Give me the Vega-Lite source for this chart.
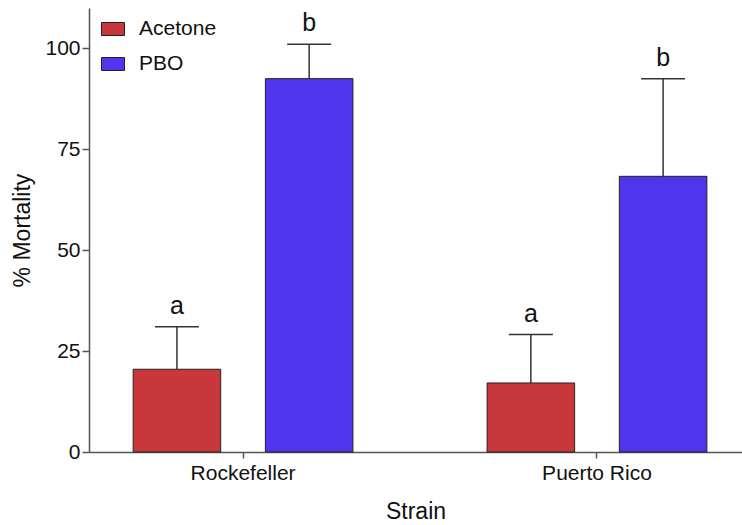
{
  "$schema": "https://vega.github.io/schema/vega-lite/v6.json",
  "width": 653,
  "height": 444,
  "autosize": {"type": "none"},
  "padding": {"left": 89, "top": 8, "right": 0, "bottom": 73},
  "background": "white",
  "config": {
    "view": {"stroke": null},
    "font": "Liberation Sans",
    "axis": {"labelFont": "Liberation Sans", "titleFont": "Liberation Sans", "labelColor": "#111", "titleColor": "#111", "titleFontWeight": "normal", "domainColor": "#555", "tickColor": "#555", "domainWidth": 1.5, "tickWidth": 1.5, "grid": false},
    "legend": {"labelFont": "Liberation Sans"}
  },
  "data": {
    "values": [
      {"strain": "Rockefeller", "treatment": "Acetone", "mean": 20.5, "upper": 31.0, "letter": "a"},
      {"strain": "Rockefeller", "treatment": "PBO", "mean": 92.5, "upper": 101.0, "letter": "b"},
      {"strain": "Puerto Rico", "treatment": "Acetone", "mean": 17.1, "upper": 29.1, "letter": "a"},
      {"strain": "Puerto Rico", "treatment": "PBO", "mean": 68.3, "upper": 92.5, "letter": "b"}
    ]
  },
  "encoding": {
    "x": {
      "field": "strain", "type": "nominal", "sort": ["Rockefeller", "Puerto Rico"],
      "scale": {"paddingInner": 0.379, "paddingOuter": 0.112, "align": 0.557},
      "axis": {"title": "Strain", "labelAngle": 0, "labelFontSize": 21, "titleFontSize": 23, "tickSize": 6, "labelPadding": 4, "titlePadding": 17}
    },
    "xOffset": {
      "field": "treatment", "type": "nominal", "sort": ["Acetone", "PBO"],
      "scale": {"paddingInner": 0.338, "paddingOuter": 0}
    }
  },
  "layer": [
    {
      "mark": {"type": "rule", "color": "#333", "strokeWidth": 1.5},
      "encoding": {
        "y": {"field": "mean", "type": "quantitative"},
        "y2": {"field": "upper"}
      }
    },
    {
      "mark": {"type": "tick", "color": "#333", "thickness": 1.5, "size": 44, "opacity": 1},
      "encoding": {
        "y": {"field": "upper", "type": "quantitative"}
      }
    },
    {
      "mark": {"type": "bar", "stroke": "#222", "strokeWidth": 1},
      "encoding": {
        "y": {
          "field": "mean", "type": "quantitative",
          "scale": {"domain": [0, 110], "nice": false, "zero": true},
          "axis": {"title": "% Mortality", "values": [0, 25, 50, 75, 100], "labelFontSize": 21, "titleFontSize": 23, "tickSize": 7, "labelPadding": 2, "titlePadding": 10}
        },
        "color": {
          "field": "treatment", "type": "nominal", "sort": ["Acetone", "PBO"],
          "scale": {"domain": ["Acetone", "PBO"], "range": ["#C83739", "#5034EE"]},
          "legend": {
            "title": null, "orient": "none", "legendX": 12, "legendY": 9,
            "symbolType": "M-1,-0.565H1V0.565H-1Z", "symbolSize": 529,
            "symbolStrokeColor": "#222", "symbolStrokeWidth": 1, "symbolOpacity": 1,
            "labelFontSize": 21, "labelColor": "#111", "labelOffset": 14, "rowPadding": 13
          }
        }
      }
    },
    {
      "mark": {"type": "text", "fontSize": 25, "baseline": "bottom", "dy": -8, "color": "#111", "font": "Liberation Sans"},
      "encoding": {
        "y": {"field": "upper", "type": "quantitative"},
        "text": {"field": "letter"}
      }
    }
  ]
}
